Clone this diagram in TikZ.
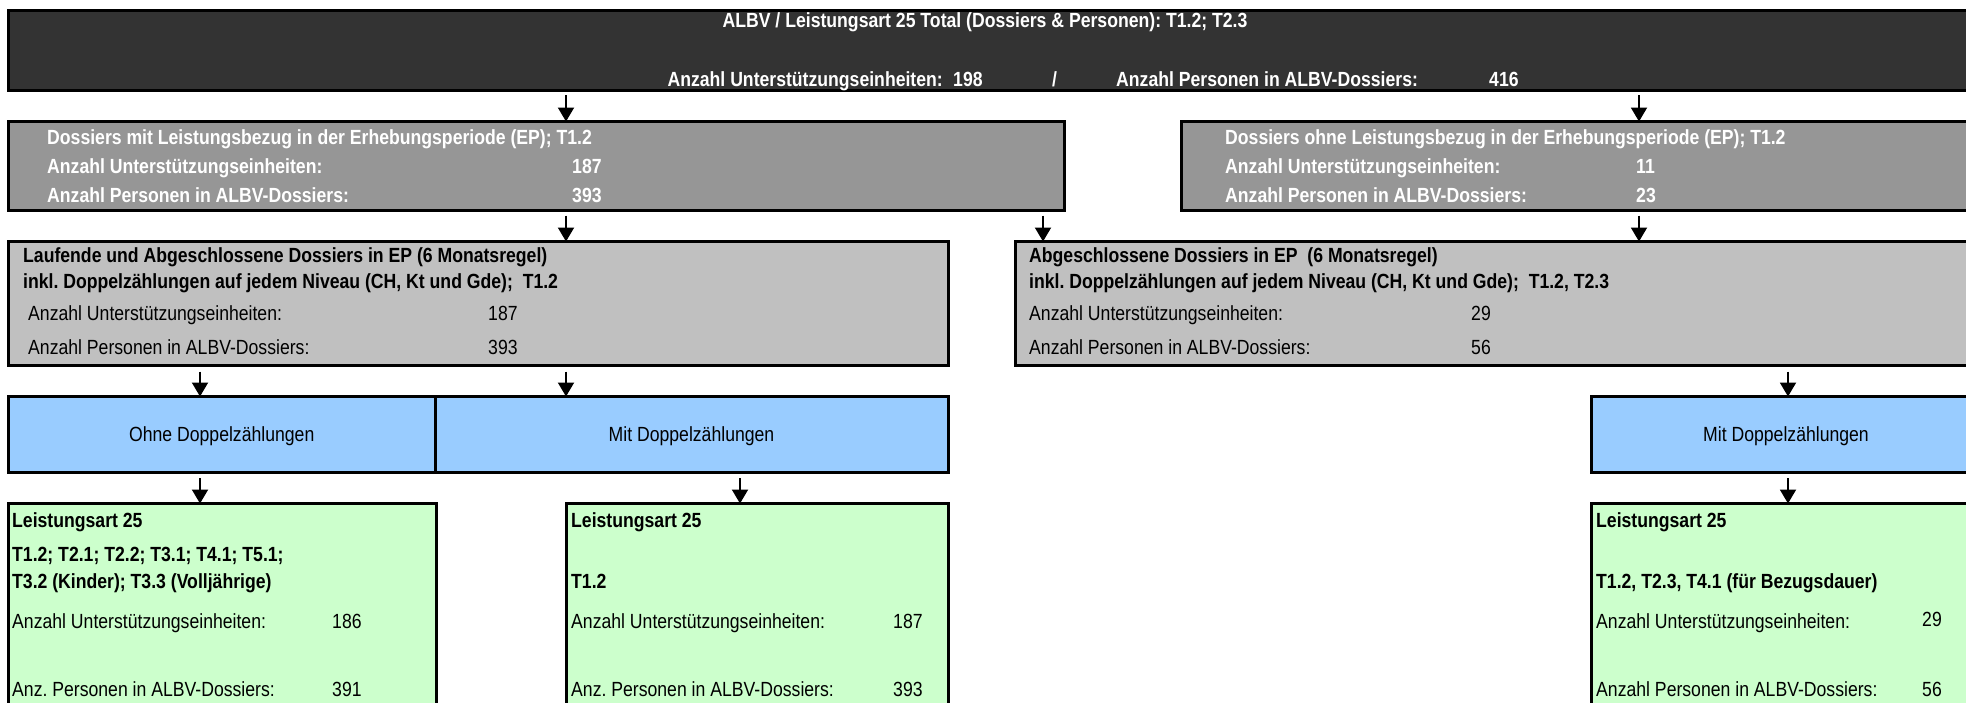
\documentclass[tikz,border=0pt]{standalone}
\usepackage{fontspec}
\setmainfont{Liberation Sans}[FakeStretch=0.86]
\usetikzlibrary{arrows.meta,calc}
\definecolor{topc}{HTML}{333333}
\definecolor{rowtwo}{HTML}{969696}
\definecolor{rowthree}{HTML}{C0C0C0}
\definecolor{bluec}{HTML}{99CCFF}
\definecolor{greenc}{HTML}{CCFFCC}
\frenchspacing
\begin{document}
\begin{tikzpicture}[x=1pt,y=-1pt,
  box/.style={draw=black, line width=3pt, anchor=north west, inner sep=0pt, outer sep=0pt},
  txt/.style={anchor=base west, inner sep=0pt, font=\fontsize{20.5}{24}\selectfont},
  btxt/.style={anchor=base west, inner sep=0pt, font=\fontsize{20.5}{24}\selectfont\bfseries},
  wtxt/.style={btxt, text=white},
  arr/.style={line width=2pt, -{Triangle[width=16pt,length=14pt]}},
]
\useasboundingbox (0,0) rectangle (1966,702);
\clip (0,0) rectangle (1966,702);

% x positions of connectors
\coordinate (xa) at (566,0);
\coordinate (xb) at (1639,0);
\coordinate (xc) at (1043,0);
\coordinate (xd) at (200,0);
\coordinate (xe) at (740,0);
\coordinate (xf) at (1788,0);

% ---------- top box ----------
\node[box, fill=topc, minimum width=1992pt, minimum height=80pt] (top) at (8.5,10.5) {};
\node[wtxt, anchor=base] (title) at (985,27) {ALBV / Leistungsart 25 Total (Dossiers \& Personen): T1.2; T2.3};
\node[wtxt, anchor=base east] (tue) at (943,86) {Anzahl Unterstützungseinheiten:};
\node[wtxt] (tuen) at (953,86) {198};
\node[wtxt] (tsl) at (1052,86) {/};
\node[wtxt] (tpe) at (1116,86) {Anzahl Personen in ALBV-Dossiers:};
\node[wtxt] (tpen) at (1489,86) {416};

% ---------- row 2 ----------
\node[box, fill=rowtwo, minimum width=1055.5pt, minimum height=89pt] (mit) at (8.5,121.5) {};
\node[wtxt] (mit1) at (47,144) {Dossiers mit Leistungsbezug in der Erhebungsperiode (EP); T1.2};
\node[wtxt] (mit2) at (47,173) {Anzahl Unterstützungseinheiten:};
\node[wtxt] (mit2n) at (572,173) {187};
\node[wtxt] (mit3) at (47,202) {Anzahl Personen in ALBV-Dossiers:};
\node[wtxt] (mit3n) at (572,202) {393};

\node[box, fill=rowtwo, minimum width=820pt, minimum height=89pt] (ohne) at (1181,121.5) {};
\node[wtxt] (ohne1) at (1225,144) {Dossiers ohne Leistungsbezug in der Erhebungsperiode (EP); T1.2};
\node[wtxt] (ohne2) at (1225,173) {Anzahl Unterstützungseinheiten:};
\node[wtxt] (ohne2n) at (1636,173) {11};
\node[wtxt] (ohne3) at (1225,202) {Anzahl Personen in ALBV-Dossiers:};
\node[wtxt] (ohne3n) at (1636,202) {23};

% ---------- row 3 ----------
\node[box, fill=rowthree, minimum width=939.5pt, minimum height=124pt] (lauf) at (8.5,241.5) {};
\node[btxt] (lauf1) at (23,262) {Laufende und Abgeschlossene Dossiers in EP (6 Monatsregel)};
\node[btxt] (lauf2) at (23,288) {inkl. Doppelzählungen auf jedem Niveau (CH, Kt und Gde);\ \ T1.2};
\node[txt] (lauf3) at (28,320) {Anzahl Unterstützungseinheiten:};
\node[txt] (lauf3n) at (488,320) {187};
\node[txt] (lauf4) at (28,354) {Anzahl Personen in ALBV-Dossiers:};
\node[txt] (lauf4n) at (488,354) {393};

\node[box, fill=rowthree, minimum width=985pt, minimum height=124pt] (abg) at (1015,241.5) {};
\node[btxt] (abg1) at (1029,262) {Abgeschlossene Dossiers in EP\ \ (6 Monatsregel)};
\node[btxt] (abg2) at (1029,288) {inkl. Doppelzählungen auf jedem Niveau (CH, Kt und Gde);\ \ T1.2, T2.3};
\node[txt] (abg3) at (1029,320) {Anzahl Unterstützungseinheiten:};
\node[txt] (abg3n) at (1471,320) {29};
\node[txt] (abg4) at (1029,354) {Anzahl Personen in ALBV-Dossiers:};
\node[txt] (abg4n) at (1471,354) {56};

% ---------- row 4 (blue) ----------
\node[box, fill=bluec, minimum width=426.5pt, minimum height=75.5pt] (b1) at (8.5,396.5) {};
\node[box, fill=bluec, minimum width=513pt, minimum height=75.5pt] (b2) at (435,396.5) {};
\node[box, fill=bluec, minimum width=390pt, minimum height=75.5pt] (b3) at (1591,396.5) {};
\node[txt, anchor=base] (b1t) at (b1.center |- 0,441) {Ohne Doppelzählungen};
\node[txt, anchor=base] (b2t) at (b2.center |- 0,441) {Mit Doppelzählungen};
\node[txt, anchor=base] (b3t) at (b3.center |- 0,441) {Mit Doppelzählungen};

% ---------- row 5 (green) ----------
\node[box, fill=greenc, minimum width=427.5pt, minimum height=220pt] (g1) at (8.5,503.5) {};
\node[btxt] (g1a) at (12,527) {Leistungsart 25};
\node[btxt] (g1b) at (12,561) {T1.2; T2.1; T2.2; T3.1; T4.1; T5.1;};
\node[btxt] (g1c) at (12,588) {T3.2 (Kinder); T3.3 (Volljährige)};
\node[txt] (g1d) at (12,628) {Anzahl Unterstützungseinheiten:};
\node[txt] (g1dn) at (332,628) {186};
\node[txt] (g1e) at (12,696) {Anz. Personen in ALBV-Dossiers:};
\node[txt] (g1en) at (332,696) {391};

\node[box, fill=greenc, minimum width=382pt, minimum height=220pt] (g2) at (566,503.5) {};
\node[btxt] (g2a) at (571,527) {Leistungsart 25};
\node[btxt] (g2b) at (571,588) {T1.2};
\node[txt] (g2d) at (571,628) {Anzahl Unterstützungseinheiten:};
\node[txt] (g2dn) at (893,628) {187};
\node[txt] (g2e) at (571,696) {Anz. Personen in ALBV-Dossiers:};
\node[txt] (g2en) at (893,696) {393};

\node[box, fill=greenc, minimum width=390pt, minimum height=220pt] (g3) at (1591,503.5) {};
\node[btxt] (g3a) at (1596,527) {Leistungsart 25};
\node[btxt] (g3b) at (1596,588) {T1.2, T2.3, T4.1 (für Bezugsdauer)};
\node[txt] (g3d) at (1596,628) {Anzahl Unterstützungseinheiten:};
\node[txt] (g3dn) at (1922,626) {29};
\node[txt] (g3e) at (1596,696) {Anzahl Personen in ALBV-Dossiers:};
\node[txt] (g3en) at (1922,696) {56};

% ---------- connectors ----------
\draw[arr] ($(top.south -| xa)+(0,4.5)$) -- (mit.north -| xa);
\draw[arr] ($(top.south -| xb)+(0,4.5)$) -- (ohne.north -| xb);
\draw[arr] ($(mit.south -| xa)+(0,5)$) -- (lauf.north -| xa);
\draw[arr] ($(mit.south -| xc)+(0,5)$) -- (abg.north -| xc);
\draw[arr] ($(ohne.south -| xb)+(0,5)$) -- (abg.north -| xb);
\draw[arr] ($(lauf.south -| xd)+(0,6)$) -- (b1.north -| xd);
\draw[arr] ($(lauf.south -| xa)+(0,6)$) -- (b2.north -| xa);
\draw[arr] ($(abg.south -| xf)+(0,6)$) -- (b3.north -| xf);
\draw[arr] ($(b1.south -| xd)+(0,6)$) -- (g1.north -| xd);
\draw[arr] ($(b2.south -| xe)+(0,6)$) -- (g2.north -| xe);
\draw[arr] ($(b3.south -| xf)+(0,6)$) -- (g3.north -| xf);
\end{tikzpicture}
\end{document}
